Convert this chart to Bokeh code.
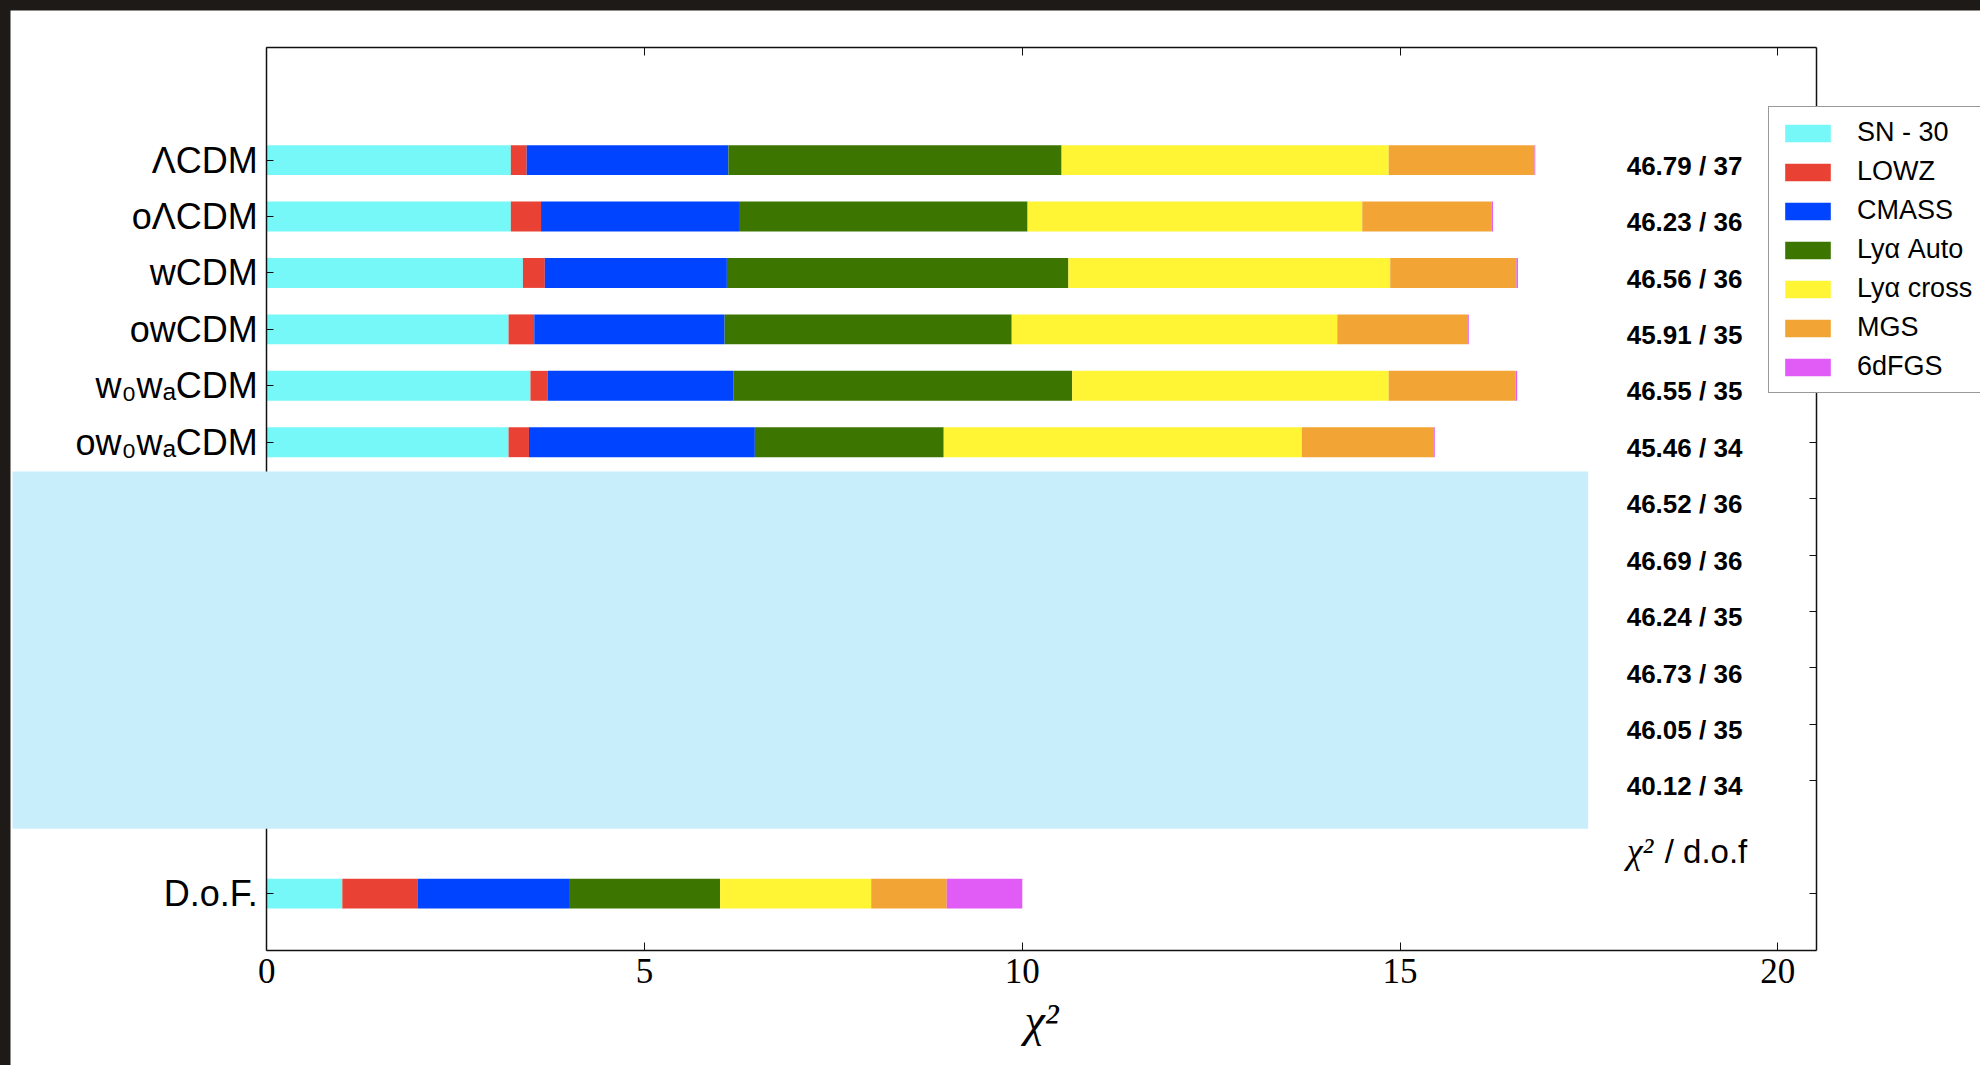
from bokeh.plotting import figure
from bokeh.models import Range1d, FixedTicker, LinearAxis, BoxAnnotation, ColumnDataSource
from bokeh.core.properties import value
from bokeh.embed import file_html
from bokeh.resources import INLINE

# ---------------- data ----------------
models = ["ΛCDM", "oΛCDM", "wCDM", "owCDM", "w₀wₐCDM", "ow₀wₐCDM"]
components = ["SN - 30", "LOWZ", "CMASS", "Lyα Auto", "Lyα cross", "MGS", "6dFGS"]
colors = ["#76F8F8", "#E94234", "#0044FF", "#3C7600", "#FFF534", "#F2A535", "#E15BF7"]

sn_30 = [3.23, 3.23, 3.39, 3.20, 3.49, 3.20]
lowz = [0.21, 0.40, 0.29, 0.34, 0.23, 0.27]
cmass = [2.67, 2.62, 2.41, 2.52, 2.46, 2.99]
lya_auto = [4.41, 3.82, 4.52, 3.80, 4.48, 2.50]
lya_cross = [4.33, 4.43, 4.26, 4.31, 4.19, 4.74]
mgs = [1.93, 1.71, 1.67, 1.73, 1.68, 1.75]
sixdfgs = [0.01, 0.02, 0.02, 0.01, 0.02, 0.01]

dof_label = "D.o.F."
dof_values = [1, 1, 2, 2, 2, 1, 1]  # SN-30, LOWZ, CMASS, Lya auto, Lya cross, MGS, 6dFGS

chi2_dof_labels = ["46.79 / 37", "46.23 / 36", "46.56 / 36", "45.91 / 35", "46.55 / 35",
                   "45.46 / 34", "46.52 / 36", "46.69 / 36", "46.24 / 35", "46.73 / 36",
                   "46.05 / 35", "40.12 / 34"]
x_ticks = [0, 5, 10, 15, 20]

# ---------------- row layout ----------------
n_rows = len(chi2_dof_labels)                       # 12 model rows (6 are masked)
row_pos = [n_rows + 1 - i for i in range(n_rows)]   # 13 ... 2
dof_pos = 0
model_pos = row_pos[:len(models)]
y_lo, y_hi = -1, n_rows + 3                          # axes box in data units
x_lo, x_hi = 0, 20.51

keys = ["sn", "lowz", "cmass", "lya_auto", "lya_cross", "mgs", "sixdfgs"]
series = [sn_30, lowz, cmass, lya_auto, lya_cross, mgs, sixdfgs]
data = {"y": model_pos + [dof_pos]}
for k, s, d in zip(keys, series, dof_values):
    data[k] = list(s) + [d]
src = ColumnDataSource(data)

# canvas geometry: the frame fills the canvas, the axes box is drawn with fixed-location axes
W, H = 1970, 1055
box_left_px, box_bottom_px = 256.3, 939.5
px_x, px_y = 75.55, 56.42
x_range = Range1d(x_lo - box_left_px / px_x, x_lo + (W - box_left_px) / px_x)
y_range = Range1d(y_lo - (H - box_bottom_px) / px_y, y_lo + box_bottom_px / px_y)

p = figure(width=W, height=H, output_backend="svg", toolbar_location=None,
           x_range=x_range, y_range=y_range,
           min_border=0, min_border_left=0, min_border_right=0, min_border_top=0, min_border_bottom=0)
p.xgrid.visible = False
p.ygrid.visible = False
p.outline_line_color = None
p.background_fill_color = "white"
p.border_fill_color = "white"

p.hbar_stack(keys, y="y", height=0.53, color=colors, source=src,
             legend_label=components, line_color=None)

# chi2 / dof labels inside the axes box
lab_x = 18.0
lab_src = ColumnDataSource(dict(x=[lab_x] * n_rows, y=[r - 0.1 for r in row_pos], t=chi2_dof_labels))
p.text(x="x", y="y", text="t", source=lab_src, text_font=value("Liberation Sans"),
       text_font_style="bold", text_font_size="26px", text_baseline="middle",
       text_align="left", text_color="black")
p.text(x=[lab_x], y=[0.75], text=["χ²"], text_font=value("Liberation Serif"),
       text_font_style="italic", text_font_size="36px", text_baseline="middle",
       text_align="left", text_color="black")
p.text(x=[lab_x], y=[0.75], text=["/ d.o.f"], x_offset=38, text_font=value("Liberation Sans"),
       text_font_size="33px", text_baseline="middle", text_align="left", text_color="black")

common = dict(major_tick_in=8, major_tick_out=0, minor_tick_line_color=None,
              axis_line_width=1.5, axis_line_color="#111111", major_tick_line_color="#111111")

# bottom axis
xa = p.xaxis[0]
xa.fixed_location = y_lo
xa.bounds = (x_lo, x_hi)
xa.ticker = FixedTicker(ticks=x_ticks)
for k, v in common.items():
    setattr(xa, k, v)
xa.major_label_text_font = "Liberation Serif"
xa.major_label_text_font_size = "35px"
xa.major_label_text_color = "black"
xa.major_label_standoff = 9
xa.axis_label = "χ²"
xa.axis_label_text_font = "Liberation Serif"
xa.axis_label_text_font_style = "italic"
xa.axis_label_text_font_size = "46px"
xa.axis_label_text_color = "black"
xa.axis_label_standoff = 8

# left axis
ya = p.yaxis[0]
ya.fixed_location = x_lo
ya.bounds = (y_lo, y_hi)
left_ticks = model_pos + [dof_pos]
ya.ticker = FixedTicker(ticks=left_ticks)
ya.major_label_overrides = {t: l for t, l in zip(left_ticks, models + [dof_label])}
for k, v in common.items():
    setattr(ya, k, v)
ya.major_tick_in = 7
ya.major_label_text_font = "Liberation Sans"
ya.major_label_text_font_size = "36px"
ya.major_label_text_color = "black"
ya.major_label_standoff = 9

# top and right spines with inward ticks
top = LinearAxis(ticker=FixedTicker(ticks=x_ticks), fixed_location=y_hi, bounds=(x_lo, x_hi),
                 major_label_overrides={t: "" for t in x_ticks}, major_label_text_font_size="1px",
                 **common)
p.add_layout(top, "above")
right_ticks = row_pos + [dof_pos]
right = LinearAxis(ticker=FixedTicker(ticks=right_ticks), fixed_location=x_hi, bounds=(y_lo, y_hi),
                   major_label_overrides={t: "" for t in right_ticks}, major_label_text_font_size="1px",
                   **common)
right.major_tick_in = 7
p.add_layout(right, "right")

# legend
lg = p.legend[0]
lg.location = (1758, 672)
lg.label_text_font = "Liberation Sans"
lg.label_text_font_size = "27px"
lg.label_text_color = "black"
lg.glyph_width = 57
lg.glyph_height = 22
lg.label_standoff = 21
lg.spacing = 8
lg.padding = 10
lg.margin = 0
lg.border_line_color = "#333333"
lg.border_line_width = 1.5
lg.background_fill_color = "white"
lg.background_fill_alpha = 1.0

# light-blue mask covering part of the figure
mask = BoxAnnotation(left=-3.366, right=17.49, top=row_pos[6] + 0.482, bottom=1.15,
                     fill_color="#C8EEFC", fill_alpha=1.0, line_color=None, level="overlay")
p.add_layout(mask)

html = file_html(p, INLINE, title="chi2 breakdown")
html = html.replace("</head>", "<style>html,body{margin:0;padding:0;background:#1e1a17;overflow:hidden;}"
                    "body{padding:10px 0 0 10px;}</style></head>", 1)
open("out.html", "w").write(html)
